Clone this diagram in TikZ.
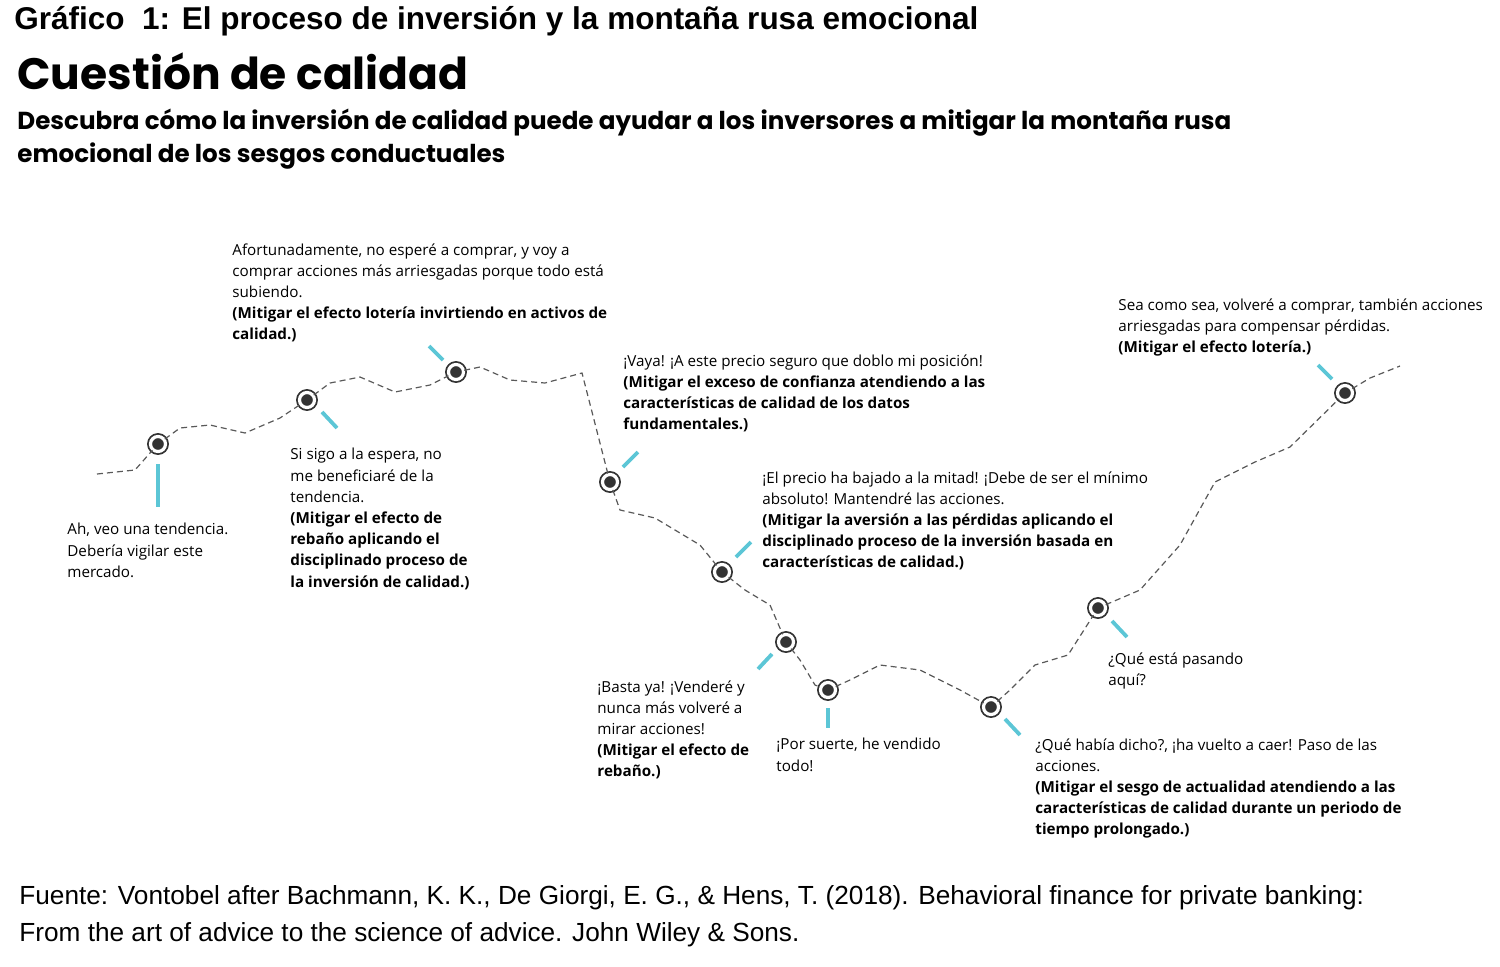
\documentclass[tikz,border=0pt]{standalone}
\usepackage{fontspec}
\setmainfont{Open Sans}
\newfontfamily\arialf{Liberation Sans}
\newfontfamily\headf{Poppins}
\definecolor{turq}{HTML}{5CC6D6}
\tikzset{
	txt/.style={anchor=north west, align=left, inner sep=0pt, font=\fontsize{7.6}{10.6}\selectfont},
	punto/.style={circle, draw=black!80, line width=0.9pt, fill=black!80, double=white, double distance=1.6pt, minimum size=7.5pt, inner sep=0pt},
	tick/.style={turq, line width=1.9pt},
	curva/.style={densely dashed, black!65, line width=0.6pt}
}
\begin{document}
\begin{tikzpicture}[x=0.5pt, y=-0.5pt]
	\useasboundingbox (0,0) rectangle (1500,966);

	% titles
	\node[anchor=north west, inner sep=0pt, font=\arialf\bfseries\fontsize{15.75}{18}\selectfont] (tit) at (14,6) {Gráfico\ \ 1: El proceso de inversión y la montaña rusa emocional};
	\node[anchor=north west, inner sep=0pt, font=\headf\bfseries\fontsize{22}{26}\selectfont] (cue) at (17,52) {Cuestión de calidad};
	\node[anchor=north west, inner sep=0pt, align=left, font=\headf\bfseries\fontsize{12.3}{16.5}\selectfont] (sub) at (17,109) {Descubra cómo la inversión de calidad puede ayudar a los inversores a mitigar la montaña rusa\\emocional de los sesgos conductuales};

	% markers
	\node[punto] (m1) at (158,444) {};
	\node[punto] (m2) at (307,400) {};
	\node[punto] (m3) at (456,372) {};
	\node[punto] (m4) at (610,482) {};
	\node[punto] (m5) at (722,572) {};
	\node[punto] (m6) at (786,642) {};
	\node[punto] (m7) at (828,690) {};
	\node[punto] (m8) at (991,707) {};
	\node[punto] (m9) at (1098,608) {};
	\node[punto] (m10) at (1345,393) {};
	\coordinate (ini) at (97,474);
	\coordinate (fin) at (1400,366);

	% the roller coaster
	\draw[curva] (ini) -- (135,470) -- (m1)
		(m1) -- (180,428) -- (210,425) -- (245,433) -- (280,418) -- (m2)
		(m2) -- (330,383) -- (360,377) -- (395,392) -- (430,385) -- (m3)
		(m3) -- (480,367) -- (510,380) -- (545,383) -- (582,373) -- (m4)
		(m4) -- (620,510) -- (655,518) -- (700,545) -- (m5)
		(m5) -- (745,590) -- (770,605) -- (m6)
		(m6) -- (800,660) -- (815,685) -- (m7)
		(m7) -- (850,680) -- (880,665) -- (920,670) -- (960,690) -- (m8)
		(m8) -- (1010,690) -- (1035,665) -- (1068,655) -- (m9)
		(m9) -- (1140,590) -- (1180,545) -- (1215,482) -- (1255,462) -- (1290,447) -- (m10)
		(m10) -- (1370,378) -- (fin);

	% ticks
	\draw[tick] (158,464) -- (158,507);
	\draw[tick] (322,412) -- (337,428);
	\draw[tick] (429,346) -- (443,360);
	\draw[tick] (623,467) -- (638,452);
	\draw[tick] (736,557) -- (751,542);
	\draw[tick] (758,669) -- (772,654);
	\draw[tick] (828,708) -- (828,728);
	\draw[tick] (1005,719) -- (1020,735);
	\draw[tick] (1112,621) -- (1127,637);
	\draw[tick] (1318,365) -- (1332,379);

	% texts
	\node[txt] (t1) at (67,523) {Ah, veo una tendencia.\\Debería vigilar este\\mercado.};
	\node[txt] (t2) at (290,448) {Si sigo a la espera, no\\me beneficiaré de la\\tendencia.\\\textbf{(Mitigar el efecto de}\\\textbf{rebaño aplicando el}\\\textbf{disciplinado proceso de}\\\textbf{la inversión de calidad.)}};
	\node[txt] (t3) at (232,243) {Afortunadamente, no esperé a comprar, y voy a\\comprar acciones más arriesgadas porque todo está\\subiendo.\\\textbf{(Mitigar el efecto lotería invirtiendo en activos de}\\\textbf{calidad.)}};
	\node[txt] (t4) at (623,354) {¡Vaya! ¡A este precio seguro que doblo mi posición!\\\textbf{(Mitigar el exceso de confianza atendiendo a las}\\\textbf{características de calidad de los datos}\\\textbf{fundamentales.)}};
	\node[txt] (t5) at (762,471) {¡El precio ha bajado a la mitad! ¡Debe de ser el mínimo\\absoluto! Mantendré las acciones.\\\textbf{(Mitigar la aversión a las pérdidas aplicando el}\\\textbf{disciplinado proceso de la inversión basada en}\\\textbf{características de calidad.)}};
	\node[txt] (t6) at (597,680) {¡Basta ya! ¡Venderé y\\nunca más volveré a\\mirar acciones!\\\textbf{(Mitigar el efecto de}\\\textbf{rebaño.)}};
	\node[txt] (t7) at (776,738) {¡Por suerte, he vendido\\todo!};
	\node[txt] (t8) at (1035,738) {¿Qué había dicho?, ¡ha vuelto a caer! Paso de las\\acciones.\\\textbf{(Mitigar el sesgo de actualidad atendiendo a las}\\\textbf{características de calidad durante un periodo de}\\\textbf{tiempo prolongado.)}};
	\node[txt] (t9) at (1108,652) {¿Qué está pasando\\aquí?};
	\node[txt] (t10) at (1118,298) {Sea como sea, volveré a comprar, también acciones\\arriesgadas para compensar pérdidas.\\\textbf{(Mitigar el efecto lotería.)}};

	% source
	\node[anchor=north west, inner sep=0pt, align=left, font=\arialf\fontsize{13.1}{18.5}\selectfont] (src) at (19,885) {Fuente: Vontobel after Bachmann, K. K., De Giorgi, E. G., \& Hens, T. (2018). Behavioral finance for private banking:\\From the art of advice to the science of advice. John Wiley \& Sons.};
\end{tikzpicture}
\end{document}
